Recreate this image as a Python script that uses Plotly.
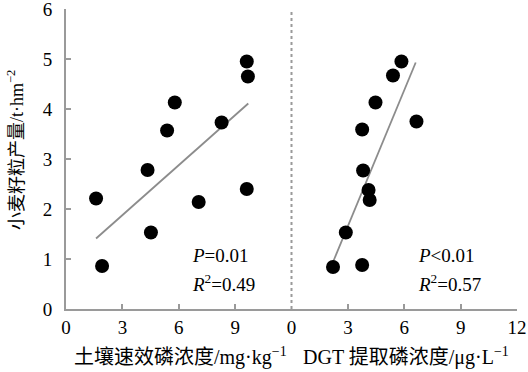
import plotly.graph_objects as go

# Left panel: soil available P (mg/kg) vs wheat yield
soil_p = [1.6, 1.92, 4.34, 4.52, 5.38, 5.79, 7.06, 8.28, 9.62, 9.68, 9.62]
yield_left = [2.21, 0.86, 2.78, 1.53, 3.57, 4.13, 2.14, 3.73, 4.95, 4.65, 2.40]
fit_left_x = [1.6, 9.7]
fit_left_y = [1.41, 4.11]

# Right panel: DGT-extracted P (ug/L) vs wheat yield
dgt_p = [5.85, 5.4, 4.47, 6.65, 3.76, 3.81, 4.1, 4.16, 2.89, 2.21, 3.76]
yield_right = [4.95, 4.67, 4.13, 3.75, 3.59, 2.77, 2.38, 2.18, 1.53, 0.84, 0.88]
fit_right_x = [2.21, 6.61]
fit_right_y = [0.94, 4.93]

x_left_ticks = [0, 3, 6, 9]
x_right_ticks = [0, 3, 6, 9, 12]
y_ticks = [0, 1, 2, 3, 4, 5, 6]

FONT = "Liberation Serif, Times New Roman, Noto Sans CJK SC, serif"
AXC = "#9a9a9a"

fig = go.Figure()
fig.add_trace(go.Scatter(x=fit_left_x, y=fit_left_y, mode="lines",
                         line=dict(color="#8c8c8c", width=1.8), xaxis="x", yaxis="y"))
fig.add_trace(go.Scatter(x=soil_p, y=yield_left, mode="markers",
                         marker=dict(color="black", size=14), xaxis="x", yaxis="y"))
fig.add_trace(go.Scatter(x=fit_right_x, y=fit_right_y, mode="lines",
                         line=dict(color="#8c8c8c", width=1.8), xaxis="x2", yaxis="y"))
fig.add_trace(go.Scatter(x=dgt_p, y=yield_right, mode="markers",
                         marker=dict(color="black", size=14), xaxis="x2", yaxis="y"))

axis_common = dict(showgrid=False, zeroline=False, showline=True, linecolor=AXC, linewidth=2,
                   ticks="inside", ticklen=5, tickcolor=AXC, tickwidth=2,
                   ticklabeloverflow="allow", automargin=False,
                   tickfont=dict(family=FONT, size=19, color="black"))

fig.update_layout(
    width=528, height=372,
    margin=dict(l=66, r=11, t=9, b=63, autoexpand=False),
    paper_bgcolor="white", plot_bgcolor="white",
    showlegend=False,
    font=dict(family=FONT, color="black"),
    xaxis=dict(domain=[0, 0.5], range=[0, 12], tickvals=x_left_ticks, anchor="y", **axis_common),
    xaxis2=dict(domain=[0.5, 1], range=[0, 12], tickvals=x_right_ticks, anchor="y", **axis_common),
    yaxis=dict(range=[0, 6], tickvals=y_ticks, anchor="x", ticklabelstandoff=8, **axis_common),
)

fig.add_shape(type="line", xref="paper", yref="paper", x0=0.5, x1=0.5, y0=0, y1=1,
              line=dict(color=AXC, width=2, dash="dot"))

ann_font = dict(family=FONT, size=19, color="black")
ytitle_font = dict(family=FONT, size=18, color="black")
xtitle_font = dict(family=FONT, size=20, color="black")
fig.add_annotation(x=6.6, y=1.08, xref="x", yref="y", text="<i>P</i>=0.01",
                   showarrow=False, xanchor="left", font=ann_font)
fig.add_annotation(x=6.6, y=0.52, xref="x", yref="y", text="<i>R</i><sup>2</sup>=0.49",
                   showarrow=False, xanchor="left", font=ann_font)
fig.add_annotation(x=6.65, y=1.08, xref="x2", yref="y", text="<i>P</i>&lt;0.01",
                   showarrow=False, xanchor="left", font=ann_font)
fig.add_annotation(x=6.65, y=0.52, xref="x2", yref="y", text="<i>R</i><sup>2</sup>=0.57",
                   showarrow=False, xanchor="left", font=ann_font)

# axis titles
fig.add_annotation(x=-0.113, y=0.53, xref="paper", yref="paper", textangle=-90,
                   xanchor="center", yanchor="middle",
                   text="小麦籽粒产量/t·hm<sup>−2</sup>", showarrow=False, font=ytitle_font)
fig.add_annotation(x=(180 - 66) / 451, y=0, xref="paper", yref="paper", yshift=-47,
                   xanchor="center", yanchor="middle",
                   text="土壤速效磷浓度/mg·kg<sup>−1</sup>", showarrow=False, font=xtitle_font)
fig.add_annotation(x=(406 - 66) / 451, y=0, xref="paper", yref="paper", yshift=-47,
                   xanchor="center", yanchor="middle",
                   text="DGT 提取磷浓度/μg·L<sup>−1</sup>", showarrow=False, font=xtitle_font)

fig.write_html("out.html", config={"displayModeBar": False},
               post_script="document.body.style.margin='0';")
